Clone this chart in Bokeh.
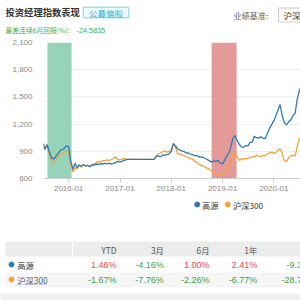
import pandas as pd
from bokeh.plotting import figure
from bokeh.layouts import column, row
from bokeh.models import (Range1d, BoxAnnotation, FixedTicker, NumeralTickFormatter,
                          DatetimeTickFormatter, ColumnDataSource)
from bokeh.core.properties import value
from bokeh.embed import file_html
from bokeh.resources import INLINE

# ---------------- data ----------------
dates = ["2015-07-06"] + [d.strftime("%Y-%m-%d") for d in pd.date_range("2015-07-15", "2020-07-15", freq="SMS")]

gaoyuan = [985, 920, 975, 900, 830, 815, 840, 870, 905, 920, 930, 960, 955, 800, 700, 770, 720, 750, 735, 755,
           740, 745, 730, 750, 748, 760, 755, 765, 760, 768, 762, 770, 758, 768, 775, 790, 780, 790, 800, 808, 810,
           810, 810, 810, 810, 810, 810, 810, 810, 810, 810, 810, 810,
           845, 850, 840, 860, 855, 865, 870, 900, 985, 960, 925, 915, 905, 900, 880, 885, 870, 865, 850, 855,
           840, 835, 835, 820, 808, 795, 780, 795, 790, 800, 770, 762, 800, 850, 880, 950, 1040, 1073, 1020, 975,
           950, 945, 965, 960, 995, 1005, 1065, 1050, 1045, 1060, 1045, 1040, 1090, 1150, 1190, 1235, 1290, 1360,
           1415, 1290, 1220, 1190, 1225, 1245, 1290, 1320, 1470, 1570, 1620]

hs300 = [985, 925, 960, 870, 790, 775, 800, 830, 870, 880, 895, 905, 890, 760, 670, 720, 705, 745, 725, 750,
         735, 745, 735, 755, 760, 775, 790, 785, 800, 795, 805, 800, 808, 820, 840, 810, 805, 815, 820, 812, 810,
         810, 810, 810, 810, 810, 810, 810, 810, 810, 810, 810, 810,
         850, 870, 880, 895, 905, 890, 900, 920, 975, 940, 875, 870, 860, 855, 840, 830, 820, 815, 790, 780,
         760, 745, 740, 725, 712, 700, 685, 668, 655, 648, 640, 635, 660, 710, 745, 795, 860, 885, 840, 800,
         815, 820, 815, 825, 830, 840, 835, 855, 850, 840, 855, 850, 870, 880, 890, 878, 885, 915, 925, 880,
         800, 785, 830, 850, 855, 850, 950, 1040, 1050]

green_band = ["2015-08-03", "2016-01-22"]
red_band = ["2018-10-15", "2019-04-11"]
x_window = ["2015-07-06", "2020-07-09"]
y_ticks = [600, 900, 1200, 1500, 1800, 2100]
x_tick_years = [2016, 2017, 2018, 2019, 2020]

series_names = ["高源", "沪深300"]
periods = ["YTD", "3月", "6月", "1年", "3年"]
gaoyuan_ret = ["1.46%", "-4.16%", "1.00%", "2.41%", "-9.36%"]
hs300_ret = ["-1.67%", "-7.76%", "-2.26%", "-6.77%", "-28.71%"]
worst_6m = "-24.5835"

BLUE = "#2b7bba"
ORANGE = "#f5a236"
RED = "#e8474c"
GREEN = "#3f9f45"
CJK = value("Noto Sans CJK SC")
LAT = value("Liberation Sans")


def ms(s):
    return pd.Timestamp(s).value / 1e6


def blank(h):
    f = figure(width=300, height=h, x_range=Range1d(0, 300), y_range=Range1d(h, 0),
               output_backend="svg", toolbar_location=None, min_border=0,
               x_axis_location=None, y_axis_location=None)
    f.grid.visible = False
    f.outline_line_color = None
    return f


# ---------------- header ----------------
hd = blank(36)
hd.text(x=[5], y=[11.5], text=["投资经理指数表现"], text_font=CJK, text_font_size="9.3px",
        text_font_style="bold", text_color="#333333", text_baseline="middle")
hd.quad(left=[82.7], right=[128.3], top=[6.7], bottom=[17.3], fill_color="#eefafd", line_color="#7fd0e8")
hd.text(x=[105.5], y=[12], text=["公募偏股"], text_font=CJK, text_font_size="8.5px",
        text_color="#39b3d7", text_align="center", text_baseline="middle")
hd.text(x=[232.7], y=[14.5], text=["业绩基准:"], text_font=CJK, text_font_size="8.2px",
        text_color="#666666", text_baseline="middle")
hd.quad(left=[278], right=[320], top=[7.5], bottom=[21.5], fill_color="white", line_color="#cccccc")
hd.text(x=[283], y=[14.5], text=["沪深300"], text_font=CJK, text_font_size="8.5px",
        text_color="#333333", text_baseline="middle")
hd.text(x=[5], y=[29.5], text=["最差连续6月回报(%):"], text_font=CJK, text_font_size="6.8px",
        text_color="#4cae4c", text_baseline="middle")
hd.text(x=[76], y=[29.5], text=[worst_6m], text_font=LAT, text_font_size="7.3px",
        text_color="#4cae4c", text_baseline="middle")

# ---------------- chart ----------------
src = ColumnDataSource(dict(date=pd.to_datetime(dates), gaoyuan=gaoyuan, hs300=hs300))
p = figure(width=300, height=160, x_axis_type="datetime",
           x_range=Range1d(ms(x_window[0]), ms(x_window[1])), y_range=Range1d(600, 2100),
           output_backend="svg", toolbar_location=None,
           min_border_left=43, min_border_right=0, min_border_top=6, min_border_bottom=18)
p.outline_line_color = None
p.xgrid.visible = False
p.ygrid.grid_line_color = "#eeeeee"
p.ygrid.ticker = FixedTicker(ticks=y_ticks)

p.add_layout(BoxAnnotation(left=ms(green_band[0]), right=ms(green_band[1]),
                           fill_color="#97d3b8", fill_alpha=1, line_alpha=0, level="underlay"))
p.add_layout(BoxAnnotation(left=ms(red_band[0]), right=ms(red_band[1]),
                           fill_color="#e59a9a", fill_alpha=1, line_alpha=0, level="underlay"))

p.line("date", "hs300", source=src, color=ORANGE, line_width=1.3)
p.line("date", "gaoyuan", source=src, color=BLUE, line_width=1.3)

p.xaxis.ticker = FixedTicker(ticks=[ms(f"{y}-01-01") for y in x_tick_years])
fmt = "%Y-%m"
p.xaxis.formatter = DatetimeTickFormatter(years=fmt, months=fmt, days=fmt, hours=fmt,
                                          minutes=fmt, seconds=fmt, milliseconds=fmt,
                                          microseconds=fmt, hourmin=fmt, minsec=fmt)
p.xaxis.axis_line_color = "#cccccc"
p.xaxis.major_tick_line_color = "#cccccc"
p.xaxis.minor_tick_line_color = None
p.xaxis.major_tick_out = 4
p.xaxis.major_tick_in = 0
p.xaxis.major_label_standoff = 3
p.xaxis.major_label_text_font = "Liberation Sans"
p.xaxis.major_label_text_font_size = "8px"
p.xaxis.major_label_text_color = "#888888"

p.yaxis.ticker = FixedTicker(ticks=y_ticks)
p.yaxis.formatter = NumeralTickFormatter(format="0,0")
p.yaxis.axis_line_color = None
p.yaxis.major_tick_line_color = None
p.yaxis.minor_tick_line_color = None
p.yaxis.major_label_standoff = 5
p.yaxis.major_label_text_font = "Liberation Sans"
p.yaxis.major_label_text_font_size = "8px"
p.yaxis.major_label_text_color = "#888888"

# ---------------- legend + table ----------------
tb = blank(104)
tb.scatter(x=[196.7, 227.3], y=[8, 8], size=5, color=[BLUE, ORANGE])
tb.text(x=[201.5, 232.5], y=[8, 8], text=series_names, text_font=CJK, text_font_size="8.2px",
        text_color="#333333", text_baseline="middle")

# table backgrounds
tb.quad(left=[5], right=[300], top=[45], bottom=[60], fill_color="#ececec", line_color=None)
tb.segment(x0=[72], y0=[45], x1=[72], y1=[60], line_color="white", line_width=1)
tb.quad(left=[5], right=[300], top=[76], bottom=[91], fill_color="#f6f6f6", line_color=None)
tb.quad(left=[0], right=[300], top=[97], bottom=[104], fill_color="#f0f0f0", line_color=None)

col_x = [116, 163.3, 209, 256.7, 314.5]
tb.text(x=col_x, y=[53] * 5, text=periods, text_font=CJK, text_font_size="8.3px",
        text_color="#555555", text_align="right", text_baseline="middle")

tb.scatter(x=[11, 11], y=[68, 83], size=5, color=[BLUE, ORANGE])
tb.text(x=[16.7], y=[68], text=[series_names[0]], text_font=CJK, text_font_size="8.3px",
        text_color="#333333", text_baseline="middle")
tb.text(x=[16.7], y=[83], text=[series_names[1]], text_font=CJK, text_font_size="8.3px",
        text_color="#4b5d7a", text_baseline="middle")
tb.segment(x0=[17], y0=[88], x1=[47], y1=[88], line_color="#9fb4d0", line_dash="1 1", line_width=1)


def ret_color(s):
    return GREEN if s.startswith("-") else RED


tb.text(x=col_x, y=[68] * 5, text=gaoyuan_ret, text_font=LAT, text_font_size="9px",
        text_color=[ret_color(s) for s in gaoyuan_ret], text_align="right", text_baseline="middle")
tb.text(x=col_x, y=[83] * 5, text=hs300_ret, text_font=LAT, text_font_size="9px",
        text_color=[ret_color(s) for s in hs300_ret], text_align="right", text_baseline="middle")

layout = column(hd, row(p, spacing=0), tb, spacing=0)
open("out.html", "w").write(file_html(layout, INLINE))
